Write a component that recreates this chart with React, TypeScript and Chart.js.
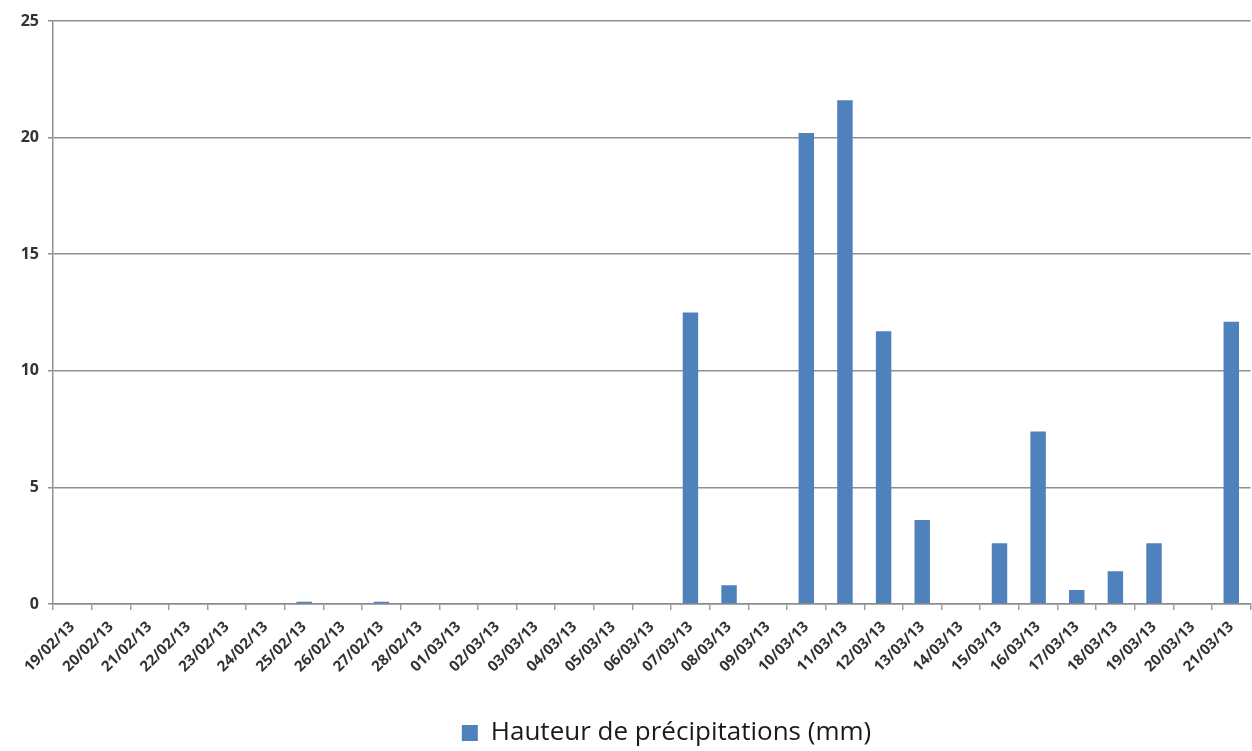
import React, { useEffect, useRef } from "react";
import { Chart, registerables } from "chart.js";

Chart.register(...registerables);

const categories: string[] = [
  "19/02/13", "20/02/13", "21/02/13", "22/02/13", "23/02/13", "24/02/13", "25/02/13", "26/02/13",
  "27/02/13", "28/02/13", "01/03/13", "02/03/13", "03/03/13", "04/03/13", "05/03/13", "06/03/13",
  "07/03/13", "08/03/13", "09/03/13", "10/03/13", "11/03/13", "12/03/13", "13/03/13", "14/03/13",
  "15/03/13", "16/03/13", "17/03/13", "18/03/13", "19/03/13", "20/03/13", "21/03/13",
];

const precipitation: number[] = [
  0, 0, 0, 0, 0, 0, 0.1, 0, 0.1, 0,
  0, 0, 0, 0, 0, 0, 12.5, 0.8, 0, 20.2, 21.6, 11.7, 3.6, 0, 2.6, 7.4, 0.6, 1.4, 2.6, 0, 12.1,
];

const seriesLabel = "Hauteur de précipitations (mm)";
const yMin = 0;
const yMax = 25;
const yStep = 5;

const legendShift = {
  id: "legendShift",
  afterLayout(chart: any) {
    const lg = chart.legend;
    if (lg) {
      lg.left += 38;
      lg.right += 38;
    }
  },
};

export default function App() {
  const canvasRef = useRef<HTMLCanvasElement | null>(null);

  useEffect(() => {
    document.body.style.margin = "0";
    const canvas = canvasRef.current;
    if (!canvas) return;
    const chart = new Chart(canvas, {
      type: "bar",
      data: {
        labels: categories,
        datasets: [
          {
            label: seriesLabel,
            data: precipitation,
            backgroundColor: "#4F81BD",
            borderWidth: 0,
            barPercentage: 0.4,
            categoryPercentage: 1,
          },
        ],
      },
      plugins: [legendShift],
      options: {
        animation: false,
        responsive: false,
        maintainAspectRatio: false,
        layout: { padding: { top: 21, right: -5, left: 0, bottom: -5 } },
        plugins: {
          legend: {
            display: true,
            position: "bottom",
            labels: {
              boxWidth: 16,
              boxHeight: 16,
              padding: 4,
              color: "#1a1a1a",
              font: { family: "'Open Sans', sans-serif", size: 26 },
            },
          },
          tooltip: { enabled: false },
        },
        scales: {
          x: {
            offset: true,
            grid: {
              offset: true,
              drawOnChartArea: false,
              drawTicks: true,
              tickLength: 6,
              color: "#a0a0a0",
              lineWidth: 1.5,
            },
            border: { display: true, color: "#8c8c8c", width: 1.5 },
            ticks: {
              autoSkip: false,
              maxRotation: 45,
              minRotation: 45,
              padding: 8,
              color: "#333333",
              font: { family: "'Open Sans', sans-serif", size: 15, weight: "bold" },
            },
            afterFit: (scale: any) => {
              scale.height = 112;
            },
          },
          y: {
            min: yMin,
            max: yMax,
            grid: {
              color: "#8f8f8f",
              lineWidth: 1.5,
              drawTicks: true,
              tickLength: 5,
            },
            border: { display: true, color: "#8f8f8f", width: 1.5 },
            ticks: {
              stepSize: yStep,
              padding: 9,
              color: "#333333",
              font: { family: "'Open Sans', sans-serif", size: 16, weight: "bold" },
            },
            afterFit: (scale: any) => {
              scale.width = 53;
            },
          },
        },
      },
    });
    return () => {
      chart.destroy();
    };
  }, []);

  return (
    <div style={{ width: 1252, height: 751, position: "relative", background: "#ffffff", overflow: "hidden" }}>
      <canvas ref={canvasRef} width={1252} height={751} style={{ display: "block" }} />
    </div>
  );
}
